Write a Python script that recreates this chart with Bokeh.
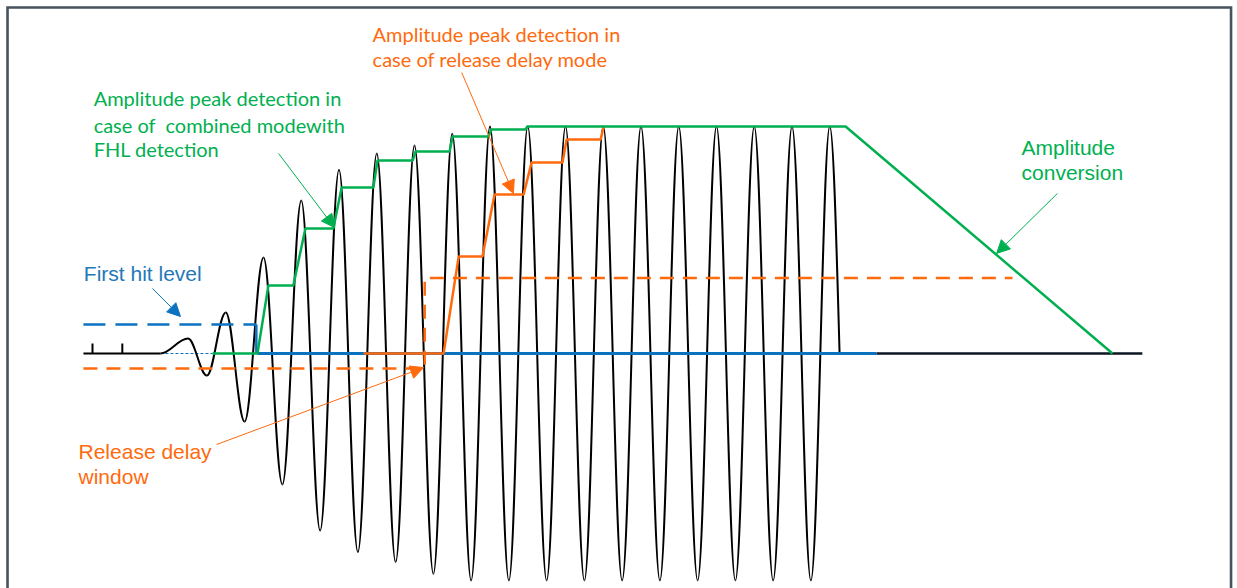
from bokeh.plotting import figure
from bokeh.models import Range1d, Arrow, NormalHead
from bokeh.core.properties import value
from bokeh.embed import file_html
from bokeh.resources import INLINE

# ---------------- data (time in signal periods, amplitude in % of full scale) ----
peak_t = [0, 1, 2, 3, 4, 5, 6, 7, 8, 9, 10, 11, 12, 13, 14, 15, 16, 17]
peak_amp = [6.6, 18.1, 42.3, 67.4, 81.0, 88.1, 91.6, 96.8, 100, 100, 100, 100,
            100, 100, 100, 100, 100, 100]
trough_t = [0.5, 1.5, 2.5, 3.5, 4.5, 5.5, 6.5, 7.5, 8.5, 9.5, 10.5, 11.5, 12.5,
            13.5, 14.5, 15.5, 16.5]
trough_amp = [-9.7, -30.0, -57.7, -78.0, -87.5, -91.9, -97.0, -100, -100, -100,
              -100, -100, -100, -100, -100, -100, -100]
wave_start_t = -0.73
wave_end_t = 17.26

# peak detection, combined mode with FHL detection (green)
green_t = [0.65, 1.84, 2.13, 2.79, 3.11, 3.85, 4.07, 4.91, 5.02, 5.95, 6.03, 6.93,
           7.01, 7.96, 8.04, 8.94, 8.99, 17.42, 24.49]
green_amp = [0, 0, 30.0, 30.0, 55.1, 55.1, 73.1, 73.1, 85.0, 85.0, 89.0, 89.0,
             95.6, 95.6, 98.7, 98.7, 100, 100, 0]

# peak detection, release delay mode (orange)
orange_t = [4.65, 6.77, 7.17, 7.80, 8.12, 8.89, 9.10, 9.92, 10.03, 10.93, 11.01]
orange_amp = [0, 0, 42.7, 42.7, 70.0, 70.0, 84.1, 84.1, 94.3, 94.3, 100]

# first hit level (blue dashed)
fhl_level = 12.8
fhl_t = [-2.77, 1.81]

# release delay window (orange dashed)
rdw_t = [-2.77, 6.27, 6.27, 21.84]
rdw_amp = [-6.6, -6.6, 33.3, 33.3]

# baselines
base_black_left_t = [-2.77, -0.73]
base_thin_blue_t = [-0.73, 0.65]
base_blue_t = [1.84, 18.24]
base_black_right_t = [18.24, 25.28]
tick_t = [-2.53, -1.74]
tick_height = 4.4

# ---------------- colours ----------------
BLACK = "#000000"
GREEN = "#00b050"
ORANGE = "#ff6a0d"
BLUE = "#0b72c0"
BLUE_TXT = "#1f78b8"
FRAME = "#46535e"

X0, X1 = -4.967, 27.801
Y0, Y1 = -103.52, 155.51

p = figure(width=1237, height=588, x_range=Range1d(X0, X1), y_range=Range1d(Y0, Y1),
           output_backend="svg", toolbar_location=None, x_axis_type=None,
           y_axis_type=None, min_border=0)
p.grid.visible = False
p.outline_line_color = None
p.background_fill_color = "white"
p.border_fill_color = "white"

# frame (top, left, right) of the diagram box
FL, FR, FT = -4.781, 27.63, 152.42
p.line([FL, FL, FR, FR], [Y0 - 5, FT, FT, Y0 - 5], line_color=FRAME, line_width=2.6,
       line_join="miter")

# ---------------- waveform as cubic Bezier segments ----------------
ext_t = [wave_start_t]
ext_a = [0.0]
for i in range(len(peak_t)):
    ext_t.append(peak_t[i]); ext_a.append(peak_amp[i])
    if i < len(trough_t):
        ext_t.append(trough_t[i]); ext_a.append(trough_amp[i])

k = 1 - 2 / 3.141592653589793
x0s, y0s, x1s, y1s, cx0, cy0, cx1, cy1 = [], [], [], [], [], [], [], []
for i in range(len(ext_t) - 1):
    a, b = ext_t[i], ext_t[i + 1]
    d = b - a
    x0s.append(a); y0s.append(ext_a[i]); x1s.append(b); y1s.append(ext_a[i + 1])
    cx0.append(a + k * d); cy0.append(ext_a[i])
    cx1.append(b - k * d); cy1.append(ext_a[i + 1])
# last quarter: peak down to baseline
a, b = ext_t[-1], wave_end_t
d2 = 2 * (b - a)
x0s.append(a); y0s.append(ext_a[-1]); x1s.append(b); y1s.append(0.0)
cx0.append(a + k / 2 * d2); cy0.append(ext_a[-1])
cx1.append(a + (1 + k) / 4 * d2); cy1.append(ext_a[-1] / 2)

# baselines under everything
p.line(base_black_left_t, [0, 0], line_color=BLACK, line_width=2)
for tt in tick_t:
    p.line([tt, tt], [0, tick_height], line_color=BLACK, line_width=2)
p.line(base_thin_blue_t, [0, 0], line_color=BLUE, line_width=1, line_dash="3 2")

p.bezier(x0=x0s, y0=y0s, x1=x1s, y1=y1s, cx0=cx0, cy0=cy0, cx1=cx1, cy1=cy1,
         line_color=BLACK, line_width=2)

p.line(base_blue_t, [0, 0], line_color=BLUE, line_width=3)
p.line(base_black_right_t, [0, 0], line_color="#0a1622", line_width=2.5)

# thresholds
p.line(fhl_t, [fhl_level, fhl_level], line_color=BLUE, line_width=2.5, line_dash="22 10")
p.line([fhl_t[1], fhl_t[1]], [fhl_level, 0], line_color=BLUE, line_width=2.5)
p.line(rdw_t, rdw_amp, line_color=ORANGE, line_width=2.5, line_dash="14 9")

# peak detection step lines
p.line(orange_t, orange_amp, line_color=ORANGE, line_width=2.5)
p.line(green_t, green_amp, line_color=GREEN, line_width=2.5)

# ---------------- arrows ----------------
def arrow(xs, ys, xe, ye, c):
    p.add_layout(Arrow(end=NormalHead(size=13, fill_color=c, line_color=c),
                       x_start=xs, y_start=ys, x_end=xe, y_end=ye,
                       line_color=c, line_width=1))

arrow(-0.94, 28.6, -0.20, 16.3, BLUE)
arrow(0.755, -40.1, 6.24, -6.2, ORANGE)
arrow(2.40, 88.1, 3.88, 55.5, GREEN)
arrow(7.25, 123.8, 8.62, 70.5, ORANGE)
arrow(23.03, 70.5, 21.42, 44.1, GREEN)

# ---------------- labels ----------------
def label(x, ys, lines, color, font, size):
    p.text(x=[x] * len(lines), y=ys, text=lines, text_color=color,
           text_font=value(font), text_font_size=size,
           text_baseline="alphabetic", text_align="left")

label(4.89, [140.8, 129.8], ["Amplitude peak detection in", "case of release delay mode"],
      ORANGE, "Lato", "20px")
label(-2.50, [112.5, 100.7, 90.0],
      ["Amplitude peak detection in", "case of\u00a0 combined modewith", "FHL detection"],
      GREEN, "Lato", "20px")
label(-2.76, [35.4], ["First hit level"], BLUE_TXT, "Liberation Sans", "21px")
label(-2.90, [-43.0, -54.0], ["Release delay", "window"], ORANGE, "Liberation Sans", "21px")
label(22.08, [90.9, 79.6], ["Amplitude", "conversion"], GREEN, "Liberation Sans", "21px")

open("out.html", "w").write(file_html(p, INLINE))
